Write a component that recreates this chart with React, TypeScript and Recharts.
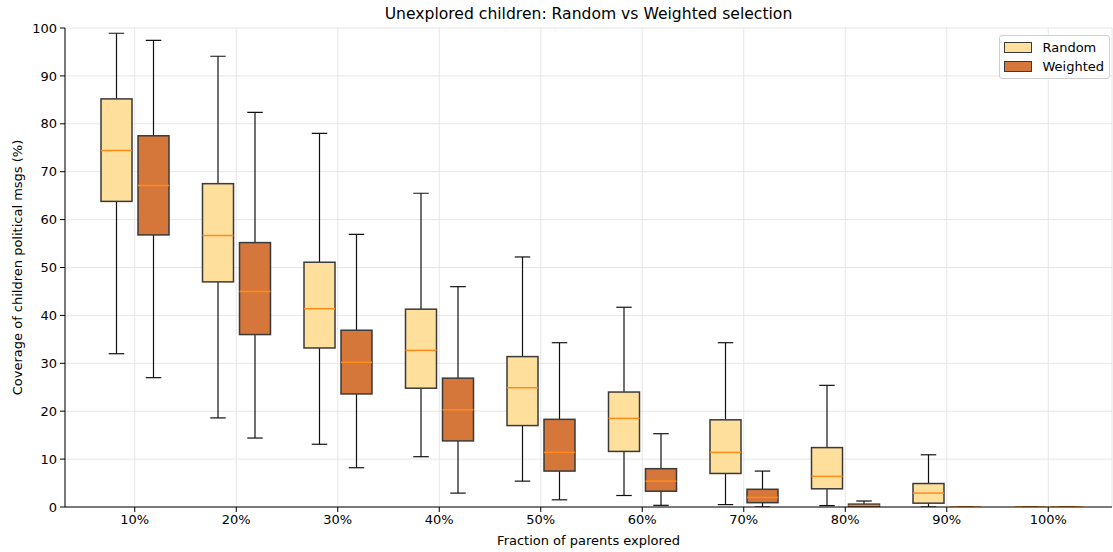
import React from 'react';
import {
  ComposedChart,
  Bar,
  XAxis,
  YAxis,
  CartesianGrid,
} from 'recharts';

// Fraction of parents explored
const categories = ['10%', '20%', '30%', '40%', '50%', '60%', '70%', '80%', '90%', '100%'];

// Random selection (whisker low, Q1, median, Q3, whisker high)
const randomLow = [32.0, 18.6, 13.1, 10.5, 5.4, 2.4, 0.5, 0.3, 0.0, 0.0];
const randomQ1 = [63.8, 47.0, 33.2, 24.8, 17.0, 11.6, 7.0, 3.8, 0.8, 0.0];
const randomMedian = [74.4, 56.7, 41.4, 32.7, 24.9, 18.5, 11.4, 6.4, 2.9, 0.0];
const randomQ3 = [85.2, 67.5, 51.1, 41.3, 31.4, 24.0, 18.2, 12.4, 4.9, 0.0];
const randomHigh = [98.9, 94.1, 78.0, 65.5, 52.2, 41.7, 34.3, 25.4, 10.9, 0.0];

// Weighted selection
const weightedLow = [27.0, 14.4, 8.2, 2.9, 1.5, 0.35, 0.0, 0.0, 0.0, 0.0];
const weightedQ1 = [56.8, 36.0, 23.6, 13.8, 7.5, 3.3, 0.9, 0.0, 0.0, 0.0];
const weightedMedian = [67.1, 45.0, 30.2, 20.3, 11.4, 5.4, 2.0, 0.3, 0.0, 0.0];
const weightedQ3 = [77.5, 55.2, 36.9, 26.9, 18.3, 8.0, 3.7, 0.6, 0.0, 0.0];
const weightedHigh = [97.4, 82.4, 56.9, 46.0, 34.3, 15.3, 7.5, 1.25, 0.0, 0.0];

const yTicks = [0, 10, 20, 30, 40, 50, 60, 70, 80, 90, 100];

const RANDOM_FILL = '#fedf9b';
const WEIGHTED_FILL = '#d5763a';
const MEDIAN_COLOR = '#ff8c1a';
const EDGE_COLOR = '#3a3a3a';
const FONT = '"DejaVu Sans", sans-serif';

interface BoxStats {
  lo: number;
  q1: number;
  med: number;
  q3: number;
  hi: number;
}

const data = categories.map((cat, i) => ({
  cat,
  random: [randomLow[i], randomHigh[i]],
  weighted: [weightedLow[i], weightedHigh[i]],
  rStats: { lo: randomLow[i], q1: randomQ1[i], med: randomMedian[i], q3: randomQ3[i], hi: randomHigh[i] },
  wStats: { lo: weightedLow[i], q1: weightedQ1[i], med: weightedMedian[i], q3: weightedQ3[i], hi: weightedHigh[i] },
}));

// the bar spans whisker low..high, so its rect gives us the value->pixel mapping
const makeBoxShape = (statsKey: 'rStats' | 'wStats', fill: string) => (props: any) => {
  const { x, y, width, height, payload } = props;
  if (x == null || y == null || !payload) return <g />;
  const s: BoxStats = payload[statsKey];
  const span = s.hi - s.lo;
  const py = (v: number) => (span > 0 ? y + ((s.hi - v) / span) * height : y);
  const cx = x + width / 2;
  const capHalf = width / 4;
  const yHi = py(s.hi);
  const yLo = py(s.lo);
  const yQ3 = py(s.q3);
  const yQ1 = py(s.q1);
  const yMed = py(s.med);
  return (
    <g>
      <line x1={cx} x2={cx} y1={yQ3} y2={yHi} stroke="#111" strokeWidth={1.2} />
      <line x1={cx} x2={cx} y1={yQ1} y2={yLo} stroke="#111" strokeWidth={1.2} />
      <line x1={cx - capHalf} x2={cx + capHalf} y1={yHi} y2={yHi} stroke="#111" strokeWidth={1.2} />
      <line x1={cx - capHalf} x2={cx + capHalf} y1={yLo} y2={yLo} stroke="#111" strokeWidth={1.2} />
      <rect
        x={x}
        y={yQ3}
        width={width}
        height={Math.max(0, yQ1 - yQ3)}
        fill={fill}
        stroke={EDGE_COLOR}
        strokeWidth={1.5}
      />
      <line x1={x} x2={x + width} y1={yMed} y2={yMed} stroke={MEDIAN_COLOR} strokeWidth={1.5} />
    </g>
  );
};

const legendItems = [
  { label: 'Random', color: RANDOM_FILL },
  { label: 'Weighted', color: WEIGHTED_FILL },
];

export default function App() {
  return (
    <div style={{ position: 'absolute', left: 0, top: 0, width: 1113, height: 552, background: '#fff', fontFamily: FONT }}>
      {/* Title */}
      <div
        style={{
          position: 'absolute',
          left: 65,
          width: 1047,
          top: 5,
          textAlign: 'center',
          fontSize: 15.6,
          color: '#000',
        }}
      >
        Unexplored children: Random vs Weighted selection
      </div>

      <ComposedChart
        width={1113}
        height={552}
        data={data}
        margin={{ top: 28, right: 1, bottom: 0, left: 0 }}
        barSize={31}
        barGap={6}
      >
        <CartesianGrid stroke="#e6e6e6" strokeWidth={1} />
        <XAxis
          dataKey="cat"
          padding={{ left: 19, right: 13 }}
          height={45}
          tickSize={5}
          tickLine={{ stroke: '#000' }}
          axisLine={{ stroke: '#000' }}
          tick={{ fill: '#000', fontSize: 13, fontFamily: FONT }}
          tickMargin={3}
          label={{
            value: 'Fraction of parents explored',
            position: 'insideBottom',
            offset: 7,
            style: { fill: '#000', fontSize: 13, fontFamily: FONT },
          }}
        />
        <XAxis xAxisId="top" dataKey="cat" orientation="top" height={0} tick={false} tickLine={false} axisLine={{ stroke: '#000' }} />
        <YAxis
          type="number"
          domain={[0, 100]}
          ticks={yTicks}
          width={65}
          tickSize={5}
          tickLine={{ stroke: '#000' }}
          axisLine={{ stroke: '#000' }}
          tick={{ fill: '#000', fontSize: 13, fontFamily: FONT }}
          tickMargin={3}
          allowDataOverflow
          label={{
            value: 'Coverage of children political msgs (%)',
            angle: -90,
            position: 'insideLeft',
            offset: 17,
            style: { fill: '#000', fontSize: 13, fontFamily: FONT, textAnchor: 'middle' },
          }}
        />
        <Bar dataKey="random" name="Random" isAnimationActive={false} shape={makeBoxShape('rStats', RANDOM_FILL)} />
        <Bar dataKey="weighted" name="Weighted" isAnimationActive={false} shape={makeBoxShape('wStats', WEIGHTED_FILL)} />
      </ComposedChart>

      {/* Legend */}
      <div
        style={{
          position: 'absolute',
          right: 3,
          top: 35,
          border: '1px solid #d0d0d0',
          borderRadius: 3,
          background: 'rgba(255,255,255,0.8)',
          padding: '2px 5px 2px 4px',
          fontSize: 13,
          color: '#000',
        }}
      >
        {legendItems.map((item) => (
          <div key={item.label} style={{ display: 'flex', alignItems: 'center', height: 19 }}>
            <span
              style={{
                display: 'inline-block',
                width: 26,
                height: 9,
                background: item.color,
                border: `1px solid ${EDGE_COLOR}`,
                marginRight: 10,
              }}
            />
            {item.label}
          </div>
        ))}
      </div>
    </div>
  );
}
